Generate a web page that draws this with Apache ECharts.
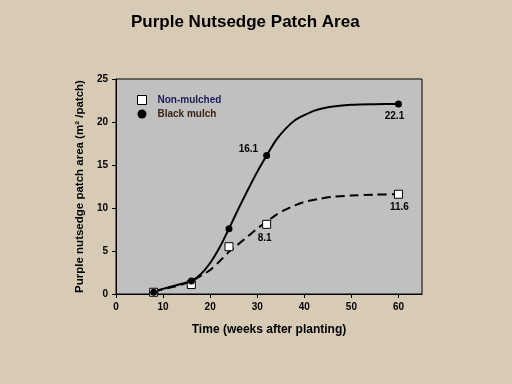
<!DOCTYPE html>
<html><head><meta charset="utf-8">
<script src="https://cdn.jsdelivr.net/npm/echarts@6/dist/echarts.min.js"></script>
<style>html,body{margin:0;padding:0;background:#d8cbb6;}#c{width:512px;height:384px;}</style>
</head><body><div id="c"></div>
<script>
// Measured points
var weeks = [8, 16, 24, 32, 60];
var nonMulched = [0.2, 1.1, 5.5, 8.1, 11.6];
var blackMulch = [0.2, 1.5, 7.6, 16.1, 22.1];
// Fitted curves: [week, area]
var blackCurve = [[8,0.3],[10,0.6],[12,0.9],[14,1.2],[16,1.5],[18,2.3],[20,3.6],[22,5.4],[24,7.6],[26,9.9],[28,12.1],[30,14.2],[32,16.1],[34,17.9],[36,19.2],[38,20.2],[40,20.8],[42,21.3],[44,21.6],[47,21.85],[50,22.0],[55,22.07],[60,22.1]];
var nonCurve = [[8,0.3],[10,0.55],[12,0.8],[14,1.1],[16,1.5],[18,2.1],[20,2.8],[22,3.8],[24,4.9],[26,5.8],[28,6.7],[30,7.6],[32,8.4],[34,9.2],[36,9.8],[38,10.3],[40,10.7],[43,11.05],[46,11.3],[50,11.45],[55,11.55],[60,11.6]];
var xTicks = [0, 10, 20, 30, 40, 50, 60];
var labelled = [32, 60];

var chart = echarts.init(document.getElementById('c'));
function pts(vals){
  return weeks.map(function(w,i){
    var d = {value:[w, vals[i]]};
    if (labelled.indexOf(w) >= 0) {
      d.label = {show:true, formatter: String(vals[i]), color:'#000', opacity:1,
        fontFamily:'Liberation Sans', fontWeight:'bold', fontSize:10};
    }
    return d;
  });
}
var blackPts = pts(blackMulch);
var nonPts = pts(nonMulched);
// label placement
blackPts[3].label.position = 'left'; blackPts[3].label.offset = [0,-6];
blackPts[4].label.position = 'bottom'; blackPts[4].label.offset = [-4,-1];
nonPts[3].label.position = 'bottom'; nonPts[3].label.offset = [-2,-1];
nonPts[4].label.position = 'bottom'; nonPts[4].label.offset = [1,-1];

var bold = {fontFamily:'Liberation Sans', fontWeight:'bold', color:'#000'};
chart.setOption({
  backgroundColor: '#d8cbb6',
  animation: false,
  title: {text:'Purple Nutsedge Patch Area', left: 126, top: 9,
    textStyle: {fontFamily:'Liberation Sans', fontWeight:'bold', fontSize:17, color:'#000'}},
  grid: {left:116, right:90, top:79, bottom:90, show:true, backgroundColor:'#c0c0c0', borderColor:'#000', borderWidth:1},
  legend: {orient:'vertical', left:132, top:90, itemWidth:9, itemHeight:9, itemGap:4,
    data:[
      {name:'Non-mulched', icon:'rect', itemStyle:{color:'#fff', borderColor:'#000', borderWidth:1}, textStyle:{color:'#1c1c5a'}},
      {name:'Black mulch', icon:'circle', itemStyle:{color:'#000'}, textStyle:{color:'#3a2414'}}
    ],
    textStyle:{fontFamily:'Liberation Sans', fontWeight:'bold', fontSize:10, padding:[0,0,0,6]}},
  xAxis: {type:'value', min:0, max:65, interval:10,
    name:'Time (weeks after planting)', nameLocation:'middle', nameGap:30,
    nameTextStyle: Object.assign({fontSize:12}, bold),
    axisLine:{show:true, lineStyle:{color:'#000', width:1}},
    axisTick:{show:true, length:4, lineStyle:{color:'#000'}, customValues: xTicks},
    axisLabel: Object.assign({fontSize:10, margin:8, customValues: xTicks}, bold),
    splitLine:{show:false}},
  yAxis: {type:'value', min:0, max:25, interval:5,
    name:'Purple nutsedge patch area (m² /patch)', nameLocation:'middle', nameGap:29, nameRotate:90,
    nameTextStyle: Object.assign({fontSize:11.5}, bold),
    axisLine:{show:true, lineStyle:{color:'#000', width:1}},
    axisTick:{show:true, length:4, lineStyle:{color:'#000'}},
    axisLabel: Object.assign({fontSize:10, margin:8}, bold),
    splitLine:{show:false}},
  series: [
    {name:'curveBlack', type:'line', smooth:0.3, showSymbol:false, data: blackCurve,
      lineStyle:{color:'#000', width:2}, z:2, silent:true},
    {name:'curveNon', type:'line', smooth:0.3, showSymbol:false, data: nonCurve,
      lineStyle:{color:'#000', width:2, type:[9,5]}, z:2, silent:true},
    {name:'Non-mulched', type:'scatter', symbol:'rect', symbolSize:8, data: nonPts,
      itemStyle:{color:'#fff', borderColor:'#000', borderWidth:1, opacity:1}, z:4,
      label: Object.assign({fontSize:10, textBorderWidth:0}, bold)},
    {name:'Black mulch', type:'scatter', symbol:'circle', symbolSize:7, data: blackPts,
      itemStyle:{color:'#000', opacity:1}, z:5,
      label: Object.assign({fontSize:10, textBorderWidth:0}, bold)}
  ]
});
</script></body></html>
